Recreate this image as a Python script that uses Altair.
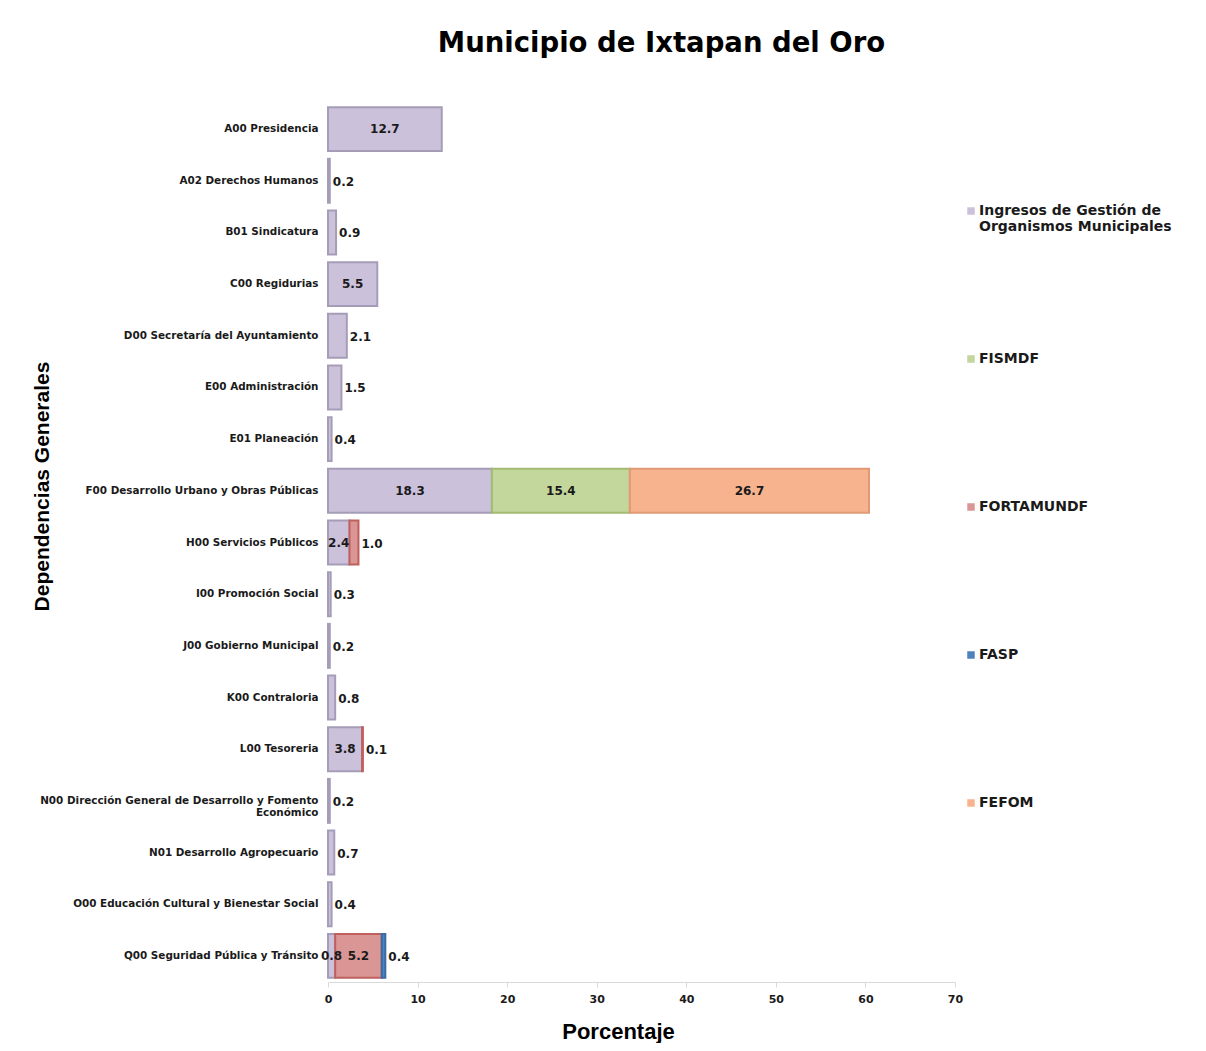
import altair as alt
import pandas as pd

categories = [
    "A00 Presidencia",
    "A02 Derechos Humanos",
    "B01 Sindicatura",
    "C00 Regidurias",
    "D00 Secretaría del Ayuntamiento",
    "E00 Administración",
    "E01 Planeación",
    "F00 Desarrollo Urbano y Obras Públicas",
    "H00 Servicios Públicos",
    "I00 Promoción Social",
    "J00 Gobierno Municipal",
    "K00 Contraloria",
    "L00 Tesoreria",
    "N00 Dirección General de Desarrollo y Fomento|Económico",
    "N01 Desarrollo Agropecuario",
    "O00 Educación Cultural y Bienestar Social",
    "Q00 Seguridad Pública y Tránsito",
]

series = ["Ingresos de Gestión de|Organismos Municipales", "FISMDF", "FORTAMUNDF", "FASP", "FEFOM"]
fills = ["#CCC1DA", "#C3D69B", "#D99694", "#4F81BD", "#F7B38E"]
strokes = ["#A59DB7", "#A3BC72", "#C0605D", "#3A6BA5", "#E09A76"]

ingresos   = [12.7, 0.2, 0.9, 5.5, 2.1, 1.5, 0.4, 18.3, 2.4, 0.3, 0.2, 0.8, 3.8, 0.2, 0.7, 0.4, 0.8]
fismdf     = [0, 0, 0, 0, 0, 0, 0, 15.4, 0, 0, 0, 0, 0, 0, 0, 0, 0]
fortamundf = [0, 0, 0, 0, 0, 0, 0, 0, 1.0, 0, 0, 0, 0.1, 0, 0, 0, 5.2]
fasp       = [0, 0, 0, 0, 0, 0, 0, 0, 0, 0, 0, 0, 0, 0, 0, 0, 0.4]
fefom      = [0, 0, 0, 0, 0, 0, 0, 26.7, 0, 0, 0, 0, 0, 0, 0, 0, 0]

values = [ingresos, fismdf, fortamundf, fasp, fefom]

rows = []
for i, cat in enumerate(categories):
    start = 0.0
    segs = [(s, values[j][i]) for j, s in enumerate(series) if values[j][i] > 0]
    for k, (s, v) in enumerate(segs):
        end = start + v
        last = k == len(segs) - 1
        rows.append({
            "cat": cat, "serie": s, "value": v,
            "start": start, "end": end, "mid": (start + end) / 2,
            "pos": "right" if (last and v < 3) else "center",
            "label": f"{v:.1f}",
        })
        start = end
df = pd.DataFrame(rows)

font = "DejaVu Sans"

y_enc = alt.Y("cat:N", sort=categories, title="Dependencias Generales",
              scale=alt.Scale(paddingInner=0.15, paddingOuter=0.08),
              axis=alt.Axis(labelExpr="split(datum.label, '|')", labelFont=font,
                            labelFontWeight="bold", labelFontSize=10.4, labelColor="#1a1a1a",
                            labelLimit=400, labelPadding=10, ticks=False, domain=False,
                            labelAlign="right", labelLineHeight=12,
                            titleFont="Liberation Sans", titleFontSize=21, titleFontWeight="bold",
                            titleColor="#000000", titleX=-286, titleY=383,
                            titleAngle=-90, titleBaseline="middle", titleAlign="center"))

x_scale = alt.Scale(domain=[0, 70], nice=False)

bars = alt.Chart(df).mark_bar(strokeWidth=2).encode(
    y=y_enc,
    x=alt.X("start:Q", scale=x_scale, title="Porcentaje",
            axis=alt.Axis(values=[0, 10, 20, 30, 40, 50, 60, 70], grid=False,
                          domainColor="#d9d9d9", tickColor="#d9d9d9", tickSize=5,
                          labelFont=font, labelFontWeight="bold", labelFontSize=11,
                          labelColor="#1a1a1a", labelPadding=6, labelFlush=False,
                          titleFont="Liberation Sans", titleFontSize=22, titleFontWeight="bold",
                          titleColor="#000000", titleX=290, titleY=49,
                          titleBaseline="middle", titleAlign="center")),
    x2="end:Q",
    color=alt.Color("serie:N", scale=alt.Scale(domain=series, range=fills), title=None,
                    legend=alt.Legend(orient="none", legendX=636, legendY=101,
                                      direction="vertical", symbolType="square",
                                      symbolSize=56, symbolStrokeWidth=0,
                                      labelExpr="split(datum.label, '|')",
                                      labelFont=font, labelFontWeight="bold",
                                      labelFontSize=14, labelColor="#1a1a1a",
                                      labelLimit=300, rowPadding=118, gridAlign="all",
                                      labelOffset=1)),
    stroke=alt.Stroke("serie:N", scale=alt.Scale(domain=series, range=strokes), legend=None),
)

center_text = alt.Chart(df).transform_filter("datum.pos == 'center'").mark_text(
    font=font, fontWeight="bold", fontSize=12, color="#1a1a1a", align="center", baseline="middle"
).encode(y=alt.Y("cat:N", sort=categories), x=alt.X("mid:Q", scale=x_scale), text="label:N")

right_text = alt.Chart(df).transform_filter("datum.pos == 'right'").mark_text(
    font=font, fontWeight="bold", fontSize=12, color="#1a1a1a", align="left", baseline="middle", dx=3, dy=1
).encode(y=alt.Y("cat:N", sort=categories), x=alt.X("end:Q", scale=x_scale), text="label:N")

chart = alt.layer(bars, center_text, right_text).properties(
    width=627, height=879,
    background="white",
    autosize=alt.AutoSizeParams(type="none"),
    padding={"left": 320, "top": 95, "right": 235, "bottom": 61},
    title=alt.TitleParams("Municipio de Ixtapan del Oro", font=font, fontSize=27.5,
                          fontWeight="bold", color="#000000", anchor="middle",
                          offset=46, dx=20),
).configure_view(stroke=None)

chart.save("out.html", embed_options={"renderer": "svg", "actions": False})
